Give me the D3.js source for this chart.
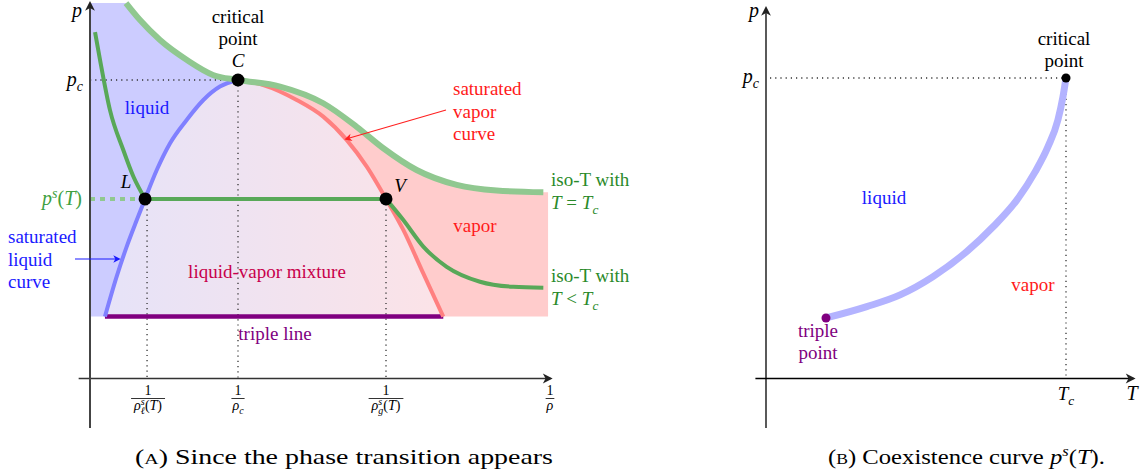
<!DOCTYPE html>
<html><head><meta charset="utf-8">
<script src="https://cdn.jsdelivr.net/npm/d3@7"></script>
<style>
body{margin:0;background:#fff}
</style></head><body>
<svg id="c" width="1146" height="475" font-family="Liberation Serif, DejaVu Serif, Noto Serif, serif"></svg>
<script>
const FONT = "Liberation Serif, DejaVu Serif, Noto Serif, serif";
// ---------- Panel A data: v = 1/rho (units of 1/rho_c), p (units of p_c) ----------
const satLiquidV = [0.101, 0.180, 0.248, 0.316, 0.372, 0.451, 0.541, 0.653, 0.766, 0.878, 1.0];
const satLiquidP = [0.206, 0.340, 0.441, 0.530, 0.601, 0.698, 0.788, 0.866, 0.933, 0.978, 1.0];
const satVaporV  = [1.0, 1.171, 1.397, 1.576, 1.734, 1.870, 2.0, 2.117, 2.252, 2.387];
const satVaporP  = [1.0, 0.983, 0.933, 0.877, 0.799, 0.709, 0.601, 0.497, 0.351, 0.206];
const isoCritV   = [0.243, 0.338, 0.473, 0.655, 0.831, 1.0, 1.284, 1.576, 1.802, 1.982, 2.207, 2.478, 2.748, 3.063];
const isoCritP   = [1.258, 1.201, 1.134, 1.067, 1.017, 1.0, 0.978, 0.922, 0.843, 0.771, 0.698, 0.648, 0.629, 0.623];
const isoSubLeftV  = [0.034, 0.068, 0.135, 0.225, 0.293, 0.372];
const isoSubLeftP  = [1.161, 1.067, 0.899, 0.765, 0.676, 0.601];
const isoSubRightV = [2.0, 2.117, 2.252, 2.410, 2.635, 2.860, 3.063];
const isoSubRightP = [0.601, 0.530, 0.441, 0.373, 0.323, 0.306, 0.303];
const pCrit = 1.0, vCrit = 1.0;
const pSat = 0.601, vLiq = 0.372, vVap = 2.0;
const pTriple = 0.206, vTripleLeft = 0.101, vTripleRight = 2.387;
const regionTopP = 1.258, regionRightV = 3.095;
const axisAV = [-0.08, 3.108], axisAP = [-0.168, 1.258];
const tickValuesA = [vLiq, vCrit, vVap, 3.108];
const tickDenomsA = [["ρ","ℓ","s","(T)"], ["ρ","c","",""], ["ρ","g","s","(T)"], ["ρ","","",""]];

// ---------- Panel B data: T (units of T_c), p (units of p_c) ----------
const coexT = [0.2, 0.336, 0.447, 0.557, 0.669, 0.757, 0.836, 0.897, 0.94, 0.973, 0.99, 1.0];
const coexP = [0.2, 0.238, 0.277, 0.338, 0.421, 0.504, 0.593, 0.687, 0.771, 0.86, 0.938, 1.0];
const axisBT = [-0.037, 1.223], axisBP = [-0.167, 1.233];

const zip = (a,b) => a.map((v,i)=>[v,b[i]]);
const svg = d3.select("#c");
const defs = svg.append("defs");
function marker(id, color, size){
  defs.append("marker").attr("id",id).attr("viewBox","-1 -5 11 10").attr("refX",7).attr("refY",0)
    .attr("markerWidth",size).attr("markerHeight",size).attr("markerUnits","userSpaceOnUse").attr("orient","auto")
    .append("path").attr("d","M0,-4.5 L9,0 L0,4.5 L2.5,0 Z").attr("fill",color);
}
marker("arrBlack","#222",12); marker("arrRed","#ff2020",9); marker("arrBlue","#1a1aff",9);
const grad = defs.append("linearGradient").attr("id","mix").attr("x1","0%").attr("x2","100%");
grad.append("stop").attr("offset","0%").attr("stop-color","#e6e3f8");
grad.append("stop").attr("offset","100%").attr("stop-color","#fce3e7");

// ================= PANEL A =================
const xA = d3.scaleLinear().domain([0,1]).range([90,238]);
const yA = d3.scaleLinear().domain([0,1]).range([378,80]);
const gA = svg.append("g");
const cr = d3.line().x(d=>xA(d[0])).y(d=>yA(d[1])).curve(d3.curveMonotoneX);
const lin = d3.line().x(d=>xA(d[0])).y(d=>yA(d[1]));
function join(close, ...segs){ return segs.map((s,i)=> i ? "L"+s.slice(1) : s).join("") + (close?"Z":""); }

const satLiq = zip(satLiquidV, satLiquidP);
const satVap = zip(satVaporV, satVaporP);
const isoC = zip(isoCritV, isoCritP);
const iCrit = isoCritV.indexOf(vCrit);
const isoCLeft = isoC.slice(0, iCrit+1), isoCRight = isoC.slice(iCrit);

function revPath(pts){ // same curve as cr(pts), traversed backwards (sampled)
  const p = document.createElementNS("http://www.w3.org/2000/svg","path");
  p.setAttribute("d", cr(pts)); svg.node().appendChild(p);
  const L = p.getTotalLength(), out = [];
  for(let i=100;i>=0;i--){ const q = p.getPointAtLength(L*i/100); out.push([q.x,q.y]); }
  p.remove();
  return "M" + out.map(d=>d[0].toFixed(2)+","+d[1].toFixed(2)).join("L");
}
gA.append("path").attr("fill","#ccccff").attr("d", join(true,
  lin([[0,regionTopP], isoC[0]]), cr(isoCLeft), revPath(satLiq),
  lin([satLiq[0],[0,pTriple]])));
gA.append("path").attr("fill","url(#mix)").attr("d", join(true, cr(satLiq), cr(satVap)));
const lastC = isoC[isoC.length-1];
gA.append("path").attr("fill","#ffcccc").attr("d", join(true,
  cr(isoCRight), lin([lastC,[regionRightV,lastC[1]],[regionRightV,pTriple],[vTripleRight,pTriple]]),
  revPath(satVap)));

const dotted = (x1,y1,x2,y2,g) => g.append("line").attr("x1",x1).attr("y1",y1).attr("x2",x2).attr("y2",y2)
  .attr("stroke","#333").attr("stroke-width",1.3).attr("stroke-dasharray","1.2,4");
dotted(xA(0),yA(pCrit),xA(vCrit),yA(pCrit),gA);
dotted(xA(vCrit),yA(pCrit),xA(vCrit),yA(0),gA);
dotted(xA(vLiq)+2,yA(pSat),xA(vLiq)+2,yA(0),gA);
dotted(xA(vVap),yA(pSat),xA(vVap),yA(0),gA);
gA.append("line").attr("x1",xA(0)).attr("x2",xA(vLiq)).attr("y1",yA(pSat)).attr("y2",yA(pSat))
  .attr("stroke","#90c890").attr("stroke-width",4).attr("stroke-dasharray","5,5");

const xAxA = d3.scaleLinear().domain(axisAV).range([xA(axisAV[0]), xA(axisAV[1])]);
const yAxA = d3.scaleLinear().domain(axisAP).range([yA(axisAP[0]), yA(axisAP[1])]);
const axX = gA.append("g").attr("transform",`translate(0,${yA(0)})`)
  .call(d3.axisBottom(xAxA).tickValues([]).tickSizeOuter(0));
axX.select(".domain").attr("stroke","#333").attr("stroke-width",1.6).attr("marker-end","url(#arrBlack)");
const axY = gA.append("g").attr("transform",`translate(${xA(0)},0)`)
  .call(d3.axisLeft(yAxA).tickValues([]).tickSizeOuter(0));
axY.select(".domain").attr("stroke","#444").attr("stroke-width",2)
  .attr("d",`M0,${yA(axisAP[0])}V${yA(axisAP[1])}`).attr("marker-end","url(#arrBlack)");

gA.append("path").attr("d", lin([[vTripleLeft,pTriple],[vTripleRight,pTriple]]))
  .attr("stroke","#800080").attr("stroke-width",4.5).attr("fill","none");
gA.append("path").attr("d", cr(satLiq)).attr("stroke","#8080ff").attr("stroke-width",4).attr("fill","none");
gA.append("path").attr("d", cr(satVap)).attr("stroke","#ff8080").attr("stroke-width",4).attr("fill","none");
gA.append("path").attr("d", cr(isoC)).attr("stroke","#90c890").attr("stroke-width",6).attr("fill","none");
gA.append("path").attr("d", join(false, cr(zip(isoSubLeftV,isoSubLeftP)), lin([[vLiq,pSat],[vVap,pSat]]), cr(zip(isoSubRightV,isoSubRightP))))
  .attr("stroke","#58a858").attr("stroke-width",4).attr("fill","none").attr("stroke-linejoin","round");
[[vCrit,pCrit],[vLiq,pSat],[vVap,pSat]].forEach(d=> gA.append("circle").attr("cx",xA(d[0])).attr("cy",yA(d[1])).attr("r",6.5).attr("fill","#000"));

function txt(g,x,y,s,opt={}){
  const t = g.append("text").attr("x",x).attr("y",y).attr("font-size",opt.size||19).attr("font-family",FONT)
    .attr("fill",opt.color||"#000").attr("text-anchor",opt.anchor||"start").text(s);
  if(opt.italic) t.attr("font-style","italic");
  return t;
}
function math(g,x,y,parts,opt={}){
  const t = g.append("text").attr("x",x).attr("y",y).attr("font-size",opt.size||19).attr("font-family",FONT)
    .attr("fill",opt.color||"#000").attr("text-anchor",opt.anchor||"start");
  let shift = 0;
  parts.forEach(([s,k])=>{
    const sp = t.append("tspan").text(s);
    let target = 0;
    if(k==="sub"){ target = 5; sp.attr("font-size",(opt.size||19)*0.7).attr("font-style","italic"); }
    else if(k==="sup"){ target = -7; sp.attr("font-size",(opt.size||19)*0.7).attr("font-style","italic"); }
    else if(k==="i"){ sp.attr("font-style","italic"); }
    sp.attr("dy", target - shift); shift = target;
  });
  return t;
}

txt(gA,77,17,"p",{italic:true,anchor:"middle",size:20});
math(gA,83,86,[["p","i"],["c","sub"]],{anchor:"end",size:20});
math(gA,82,205,[["p","i"],["s","sup"],["(","r"],["T","i"],[")","r"]],{anchor:"end",size:20,color:"#40a040"});
txt(gA,xA(vCrit),23,"critical",{anchor:"middle"});
txt(gA,xA(vCrit),45,"point",{anchor:"middle"});
txt(gA,xA(vCrit),67,"C",{anchor:"middle",italic:true});
txt(gA,147,114,"liquid",{anchor:"middle",color:"#1a1aff"});
txt(gA,126,188,"L",{anchor:"middle",italic:true});
txt(gA,400,192,"V",{anchor:"middle",italic:true});
["saturated","vapor","curve"].forEach((s,i)=>txt(gA,453,95+i*22.5,s,{color:"#ff1a1a"}));
gA.append("line").attr("x1",446).attr("y1",110).attr("x2",346).attr("y2",139)
  .attr("stroke","#ff2020").attr("stroke-width",1.1).attr("marker-end","url(#arrRed)");
txt(gA,551,186,"iso-T with",{color:"#2a8a2a"});
math(gA,551,209,[["T","i"],[" = ","r"],["T","i"],["c","sub"]],{color:"#2a8a2a"});
txt(gA,551,282,"iso-T with",{color:"#2a8a2a"});
math(gA,551,305,[["T","i"],[" < ","r"],["T","i"],["c","sub"]],{color:"#2a8a2a"});
txt(gA,475,232,"vapor",{anchor:"middle",color:"#ff1a1a"});
txt(gA,267,278,"liquid-vapor mixture",{anchor:"middle",color:"#c8004b"});
txt(gA,275,340,"triple line",{anchor:"middle",color:"#800080"});
["saturated","liquid","curve"].forEach((s,i)=>txt(gA,8,243+i*22.5,s,{color:"#1a1aff"}));
gA.append("line").attr("x1",75).attr("y1",259).attr("x2",119).attr("y2",259)
  .attr("stroke","#1a1aff").attr("stroke-width",1.1).attr("marker-end","url(#arrBlue)");

tickValuesA.forEach((v,i)=>{
  const x = xAxA(v) + (i===0?3:0);
  const [rho,sub,sup,rest] = tickDenomsA[i];
  const den = gA.append("text").attr("x",x).attr("y",410).attr("font-size",14).attr("font-family",FONT).attr("text-anchor","middle");
  den.append("tspan").text(rho).attr("font-style","italic");
  if(sup){ den.append("tspan").text(sup).attr("font-size",10).attr("font-style","italic").attr("dy",-5);
           den.append("tspan").text(sub).attr("font-size",10).attr("font-style","italic").attr("dx",-4).attr("dy",9); }
  else if(sub){ den.append("tspan").text(sub).attr("font-size",10).attr("font-style","italic").attr("dy",4); }
  if(rest){ den.append("tspan").text("(").attr("dy",sup?-4:0);
            den.append("tspan").text("T").attr("font-style","italic");
            den.append("tspan").text(")"); }
  const w = den.node().getComputedTextLength();
  gA.append("text").attr("x",x).attr("y",395).attr("font-size",14).attr("font-family",FONT).attr("text-anchor","middle").text("1");
  gA.append("line").attr("x1",x-w/2-1).attr("x2",x+w/2+1).attr("y1",398.5).attr("y2",398.5).attr("stroke","#000").attr("stroke-width",0.8);
});

const capA = svg.append("text").attr("x",135).attr("y",464).attr("font-size",21).attr("font-family",FONT)
  .attr("textLength",418).attr("lengthAdjust","spacingAndGlyphs");
capA.append("tspan").text("(");
capA.append("tspan").text("A").attr("font-size",15);
capA.append("tspan").text(") Since the phase transition appears");

// ================= PANEL B =================
const xB = d3.scaleLinear().domain([0,1]).range([766,1066]);
const yB = d3.scaleLinear().domain([0,1]).range([378,78]);
const gB = svg.append("g");
const xAxB = d3.scaleLinear().domain(axisBT).range([xB(axisBT[0]), xB(axisBT[1])]);
const yAxB = d3.scaleLinear().domain(axisBP).range([yB(axisBP[0]), yB(axisBP[1])]);
const bx = gB.append("g").attr("transform",`translate(0,${yB(0)})`).call(d3.axisBottom(xAxB).tickValues([]).tickSizeOuter(0));
bx.select(".domain").attr("stroke","#000").attr("stroke-width",1.3).attr("marker-end","url(#arrBlack)");
const by = gB.append("g").attr("transform",`translate(${xB(0)},0)`).call(d3.axisLeft(yAxB).tickValues([]).tickSizeOuter(0));
by.select(".domain").attr("stroke","#000").attr("stroke-width",1.3)
  .attr("d",`M0,${yB(axisBP[0])}V${yB(axisBP[1])}`).attr("marker-end","url(#arrBlack)");
dotted(xB(0)+4,yB(1),xB(1),yB(1),gB);
dotted(xB(1),yB(1),xB(1),yB(0),gB);
const crB = d3.line().x(d=>xB(d[0])).y(d=>yB(d[1])).curve(d3.curveMonotoneX);
gB.append("path").attr("d",crB(zip(coexT,coexP))).attr("stroke","#b3b3ff").attr("stroke-width",7).attr("fill","none");
gB.append("circle").attr("cx",xB(1)).attr("cy",yB(1)).attr("r",4.5).attr("fill","#000");
gB.append("circle").attr("cx",xB(coexT[0])).attr("cy",yB(coexP[0])).attr("r",4.5).attr("fill","#800080");

txt(gB,754,17,"p",{italic:true,anchor:"middle",size:20});
math(gB,759,83,[["p","i"],["c","sub"]],{anchor:"end",size:20});
txt(gB,1064,45,"critical",{anchor:"middle"});
txt(gB,1064,67,"point",{anchor:"middle"});
txt(gB,884,204,"liquid",{anchor:"middle",color:"#1a1aff"});
txt(gB,1033,291,"vapor",{anchor:"middle",color:"#ff1a1a"});
txt(gB,818,337,"triple",{anchor:"middle",color:"#800080"});
txt(gB,818,359,"point",{anchor:"middle",color:"#800080"});
math(gB,1066,400,[["T","i"],["c","sub"]],{anchor:"middle",size:19});
txt(gB,1132,400,"T",{italic:true,anchor:"middle",size:20});

const capB = svg.append("text").attr("x",828).attr("y",464).attr("font-size",21).attr("font-family",FONT)
  .attr("textLength",277).attr("lengthAdjust","spacingAndGlyphs");
capB.append("tspan").text("(");
capB.append("tspan").text("B").attr("font-size",15);
capB.append("tspan").text(") Coexistence curve ");
capB.append("tspan").text("p").attr("font-style","italic");
capB.append("tspan").text("s").attr("font-style","italic").attr("font-size",14).attr("dy",-8);
capB.append("tspan").text("(").attr("dy",8);
capB.append("tspan").text("T").attr("font-style","italic");
capB.append("tspan").text(").");
</script>
</body></html>
